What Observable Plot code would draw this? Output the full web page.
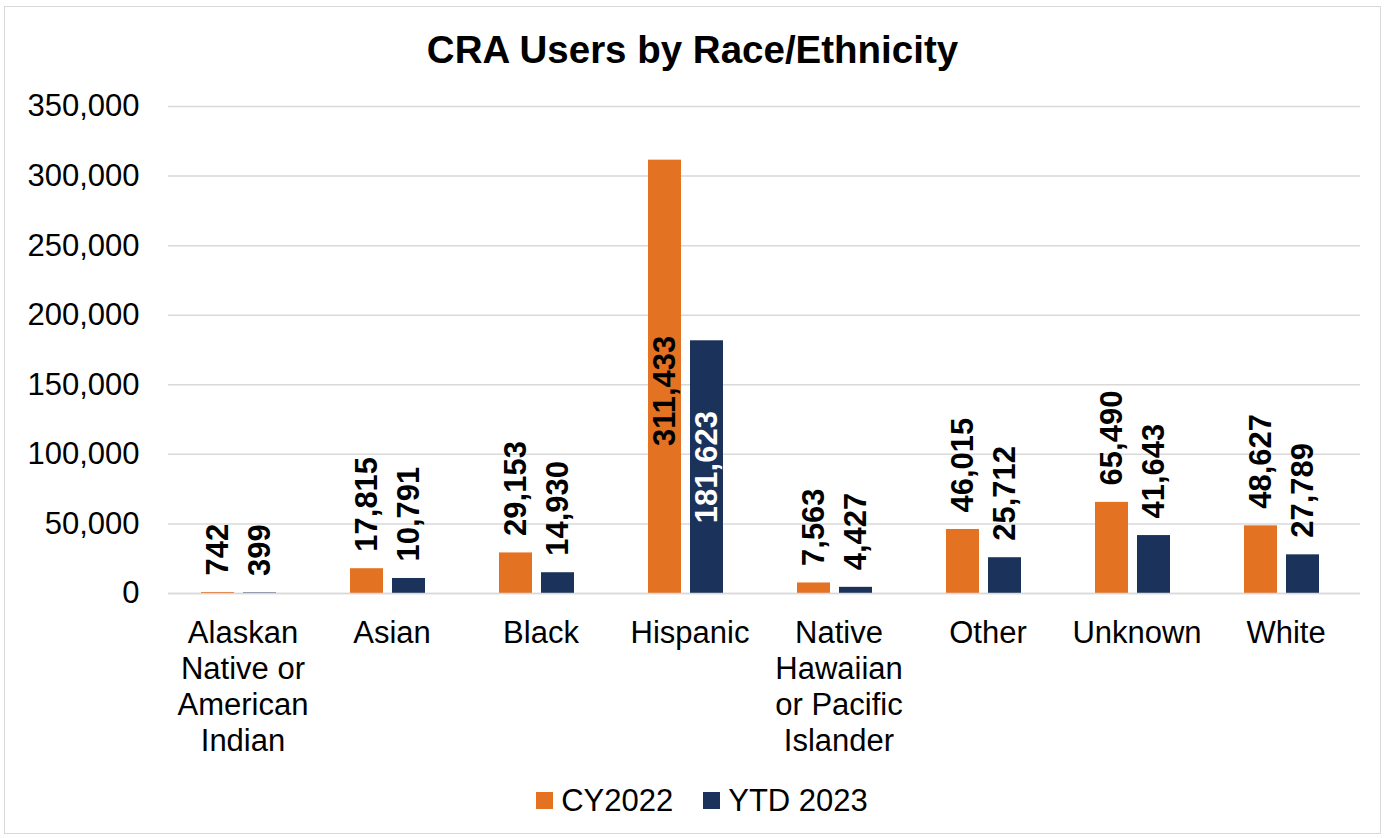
<!DOCTYPE html>
<html>
<head>
<meta charset="utf-8">
<script src="https://cdn.jsdelivr.net/npm/d3@7"></script>
<script src="https://cdn.jsdelivr.net/npm/@observablehq/plot@0.6"></script>
<style>
  html, body { margin: 0; padding: 0; background: #fff; }
  #page { position: relative; width: 1385px; height: 838px; font-family: "Liberation Sans", Arial, sans-serif; color: #000; overflow: hidden; }
  #frame { position: absolute; left: 4px; top: 6px; width: 1377px; height: 828px; border: 1.5px solid #D9D9D9; box-sizing: border-box; }
  #title { position: absolute; left: 0; width: 1385px; top: 31px; text-align: center; font-weight: bold; font-size: 38.5px; line-height: 38px; }
  #chart { position: absolute; left: 0; top: 80px; }
  #legend { position: absolute; left: 0; width: 1385px; top: 785px; display: flex; justify-content: center; align-items: center; font-size: 31px; line-height: 31px; padding-left: 19px; box-sizing: border-box; }
  .item { display: flex; align-items: center; margin: 0 15px; }
  .sw { width: 17px; height: 17px; margin-right: 8px; }
</style>
</head>
<body>
<div id="page">
  <div id="frame"></div>
  <div id="title"></div>
  <div id="chart"></div>
  <div id="legend"></div>
</div>
<script>
const titleText = "CRA Users by Race/Ethnicity";
const categories = ["Alaskan Native or American Indian", "Asian", "Black", "Hispanic", "Native Hawaiian or Pacific Islander", "Other", "Unknown", "White"];
const categoryTickLabels = ["Alaskan\nNative or\nAmerican\nIndian", "Asian", "Black", "Hispanic", "Native\nHawaiian\nor Pacific\nIslander", "Other", "Unknown", "White"];
const series = ["CY2022", "YTD 2023"];
const cy2022 = [742, 17815, 29153, 311433, 7563, 46015, 65490, 48627];
const ytd2023 = [399, 10791, 14930, 181623, 4427, 25712, 41643, 27789];
const yTicks = [0, 50000, 100000, 150000, 200000, 250000, 300000, 350000];
const insideLabelCategories = ["Hispanic"];
const seriesColors = ["#E37222", "#1B325A"];

document.getElementById("title").textContent = titleText;

const data = [];
categories.forEach((c, i) => {
  data.push({category: c, series: series[0], value: cy2022[i]});
  data.push({category: c, series: series[1], value: ytd2023[i]});
});
const tickMap = new Map(categories.map((c, i) => [c, categoryTickLabels[i]]));
const fmt = d3.format(",");
const outside = data.filter(d => !insideLabelCategories.includes(d.category));
const insideA = data.filter(d => insideLabelCategories.includes(d.category) && d.series === series[0]);
const insideB = data.filter(d => insideLabelCategories.includes(d.category) && d.series === series[1]);

const chart = Plot.plot({
  width: 1385,
  height: 690,
  marginLeft: 165,
  marginRight: 22,
  marginTop: 26,
  marginBottom: 177,
  style: {fontFamily: "'Liberation Sans', Arial, sans-serif", fontSize: "31px", color: "#000", background: "transparent", overflow: "visible"},
  fx: {domain: categories, padding: 0, label: null},
  x: {domain: series, paddingInner: 0.209, paddingOuter: 0.844, align: 0.45, axis: null},
  y: {domain: [0, 350000], label: null},
  color: {domain: series, range: seriesColors},
  marks: [
    Plot.gridY(yTicks, {stroke: "#D9D9D9", strokeOpacity: 1, strokeWidth: 1.5}),
    Plot.axisY(yTicks, {tickSize: 0, tickPadding: 29, tickFormat: fmt, label: null, fontSize: 31}),
    Plot.axisFx({anchor: "bottom", tickSize: 0, tickPadding: 24, lineHeight: 1.16, label: null, fontSize: 31, tickFormat: d => tickMap.get(d)}),
    Plot.barY(data, {fx: "category", x: "series", y: "value", fill: "series"}),
    Plot.ruleY([0], {stroke: "#D9D9D9", strokeWidth: 1.5}),
    Plot.text(outside, {fx: "category", x: "series", y: "value", text: d => fmt(d.value), rotate: -90, textAnchor: "start", dy: -17, fontSize: 31, fontWeight: "bold", fill: "#000"}),
    Plot.text(insideA, {fx: "category", x: "series", y: d => d.value / 2, text: d => fmt(d.value), rotate: -90, textAnchor: "middle", dy: 14, fontSize: 31, fontWeight: "bold", fill: "#000"}),
    Plot.text(insideB, {fx: "category", x: "series", y: d => d.value / 2, text: d => fmt(d.value), rotate: -90, textAnchor: "middle", fontSize: 31, fontWeight: "bold", fill: "#fff"})
  ]
});
document.getElementById("chart").appendChild(chart);

const legend = document.getElementById("legend");
series.forEach((s, i) => {
  const item = document.createElement("div");
  item.className = "item";
  const sw = document.createElement("div");
  sw.className = "sw";
  sw.style.background = seriesColors[i];
  const lbl = document.createElement("span");
  lbl.textContent = s;
  item.appendChild(sw);
  item.appendChild(lbl);
  legend.appendChild(item);
});
</script>
</body>
</html>
